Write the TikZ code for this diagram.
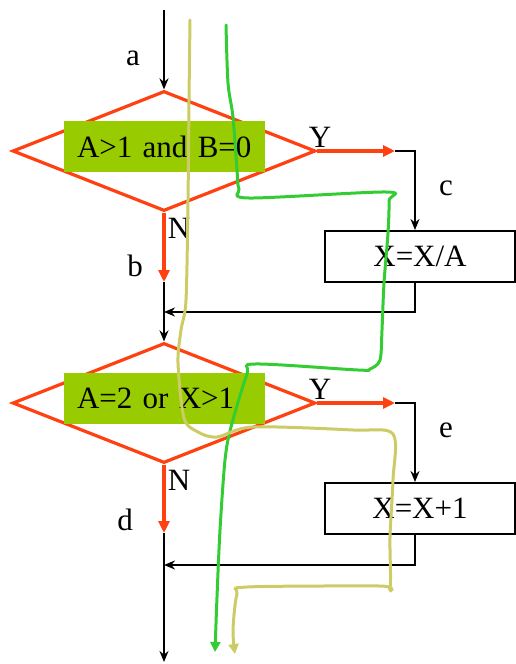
\documentclass[tikz,border=0pt]{standalone}
\usepackage{fontspec}
\setmainfont{Liberation Serif}
\usetikzlibrary{arrows.meta,shapes.geometric,calc}
\definecolor{redo}{RGB}{255,64,16}
\definecolor{boxg}{RGB}{153,204,0}
\definecolor{trg}{RGB}{51,204,51}
\definecolor{tro}{RGB}{204,204,102}
\newcommand{\fs}{\fontsize{31}{35}\selectfont}
\tikzset{
 dec/.style={diamond, draw=redo, line width=3.2, minimum width=303, minimum height=120, inner sep=0},
 cond/.style={fill=boxg, minimum height=51, inner xsep=13, inner ysep=0, text width=175, align=left, font=\fs},
 proc/.style={draw, line width=2, minimum width=190, minimum height=51, inner sep=0, font=\fs},
 lbl/.style={font=\fs, inner sep=0},
 redarr/.style={draw=redo, line width=3.2, -{Triangle[length=12,width=11]}},
 blkarr/.style={draw=black, line width=2, -{Stealth[length=11,width=9]}},
 trace/.style={line width=3, line cap=round},
}
\begin{document}
\begin{tikzpicture}[x=1pt,y=-1pt]
\useasboundingbox (0,0) rectangle (516,664);
% decisions
\node[dec] (d1) at (164,151) {};
\node[cond] (c1) at (164.5,146.5) {A>1 and B=0};
\node[dec] (d2) at (164,403) {};
\node[cond] (c2) at (164.5,398) {A=2 or X>1};
% processes
\node[proc] (p1) at (420,256.5) {X=X/A};
\node[proc] (p2) at (420,508.5) {X=X+1};
% coordinates
\coordinate (s) at (164,10);
\coordinate (y1) at (395,151);
\coordinate (n1) at (164,282);
\coordinate (m1) at (164,312);
\coordinate (y2) at (395,403);
\coordinate (n2) at (164,533);
\coordinate (m2) at (164,565);
\coordinate (e) at (164,662);
% connectors
\draw[blkarr] (s) -- (d1.north);
\draw[redarr] (d1.east) -- (y1);
\draw[blkarr] (y1) -| ([xshift=-5]p1.north);
\draw[blkarr] ([xshift=-5]p1.south) |- (m1);
\draw[redarr] (d1.south) -- (n1);
\draw[blkarr] (n1) -- (d2.north);
\draw[redarr] (d2.east) -- (y2);
\draw[blkarr] (y2) -| ([xshift=-5]p2.north);
\draw[blkarr] ([xshift=-5]p2.south) |- (m2);
\draw[redarr] (d2.south) -- (n2);
\draw[blkarr] (n2) -- (e);
% labels
\node[lbl] (la) at (133,58) {a};
\node[lbl] (lb) at (135,266) {b};
\node[lbl] (lc) at (446,188) {c};
\node[lbl] (ld) at (125,520) {d};
\node[lbl] (le) at (446,430) {e};
\node[lbl] (ly1) at (320,137) {Y};
\node[lbl] (ln1) at (179,228) {N};
\node[lbl] (ly2) at (320,389) {Y};
\node[lbl] (ln2) at (179,480) {N};
% traces
\draw[trace, draw=trg, -{Triangle[length=10,width=10]}] plot[smooth, tension=0.5] coordinates {(226,25) (228,83) (233,117) (237,170) (239,189) (249,198) (386,192) (389,201) (388,233) (384,283) (382,330) (380,360) (370,369) (358,370) (255,364) (247,374) (231,427) (225,460) (220,530) (217,597) (215,652)};
\draw[trace, draw=tro, -{Triangle[length=10,width=10]}] plot[smooth, tension=0.5] coordinates {(190,20) (189,100) (188,200) (186,300) (181,330) (178,363) (184,418) (198,432) (217,437) (253,427) (353,430) (393,434) (393,480) (390,537) (390,588) (380,586) (247,587) (237,594) (233,630) (235,654)};
\end{tikzpicture}
\end{document}
